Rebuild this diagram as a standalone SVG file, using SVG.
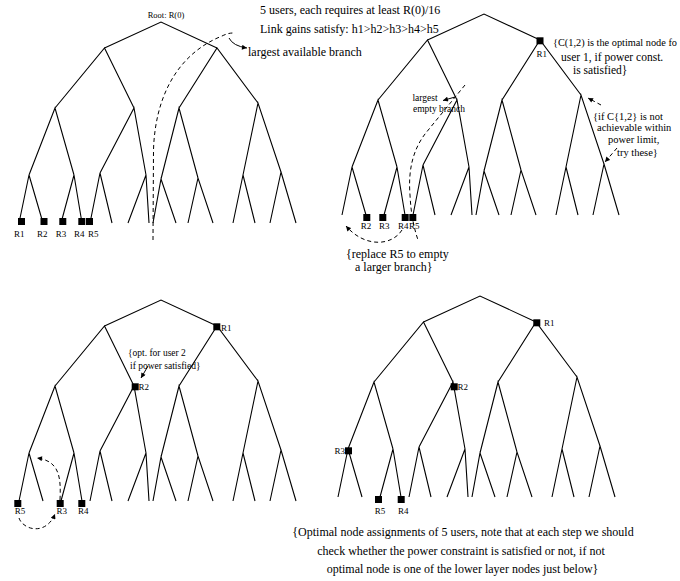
<svg xmlns="http://www.w3.org/2000/svg" width="680" height="581" viewBox="0 0 680 581">
<style>
.edge{fill:none;stroke:#000;stroke-width:1.1;stroke-linejoin:miter}
.sq{fill:#000}
.dash{fill:none;stroke:#000;stroke-width:1;stroke-dasharray:4,3}
.arr{fill:none;stroke:#000;stroke-width:1}
text{font-family:"Liberation Serif","Times New Roman",serif;fill:#000}
.lb{font-size:9px}
.sm{font-size:8.5px}
.an{font-size:9.5px}
.md{font-size:10.5px}
.mu{font-size:11.5px}
.lg{font-size:12px}
.mid{text-anchor:middle}
</style>
<defs>
<marker id="ah" viewBox="0 0 10 10" refX="10" refY="5" markerWidth="7" markerHeight="5" markerUnits="userSpaceOnUse" orient="auto"><path d="M0,0 L10,5 L0,10 Z" fill="#000"/></marker>
<g id="tree">
<path class="edge" d="M104.5,48 L161,22 L217,48 M55,108 L104.5,48 L134,108 M179,108 L217,48 L258,103 M29,175 L55,108 L74,175 M100,173 L134,108 L146,175 M161,179 L179,108 L198,178 M243,175 L258,103 L281,172 M19,223 L29,175 L43,223 M61,223 L74,175 L82,223 M90,223 L100,173 L112,223 M128,223 L146,175 L149,223 M153,223 L161,179 L176,223 M188,223 L198,178 L213,223 M233,223 L243,175 L255,223 M270,223 L281,172 L296,223"/>
</g>
</defs>

<g id="header">
<text class="lg" x="260" y="14">5 users, each requires at least R(0)/16</text>
<text class="lg" x="260" y="33">Link gains satisfy: h1&gt;h2&gt;h3&gt;h4&gt;h5</text>
</g>

<g id="tree1">
<use href="#tree"/>
<text class="sm mid" x="166" y="18">Root: R(0)</text>
<rect class="sq" x="18" y="218" width="7" height="7"/>
<rect class="sq" x="40.5" y="218" width="7" height="7"/>
<rect class="sq" x="59.3" y="218" width="7" height="7"/>
<rect class="sq" x="78.3" y="218" width="7" height="7"/>
<rect class="sq" x="86" y="218" width="7" height="7"/>
<text class="lb mid" x="19.3" y="236.5">R1</text>
<text class="lb mid" x="42.3" y="236.5">R2</text>
<text class="lb mid" x="61" y="236.5">R3</text>
<text class="lb mid" x="79.3" y="236.5">R4</text>
<text class="lb mid" x="93.3" y="236.5">R5</text>
<text class="lg" x="248" y="56">largest available branch</text>
</g>

<g id="tree2">
<use href="#tree" transform="translate(323,-8)"/>
<rect class="sq" x="536.5" y="37.3" width="7" height="7"/>
<text class="lb mid" x="541.7" y="56.5">R1</text>
<rect class="sq" x="363.3" y="214" width="7" height="7"/>
<rect class="sq" x="379.3" y="214" width="7" height="7"/>
<rect class="sq" x="401.7" y="214" width="7" height="7"/>
<rect class="sq" x="409.3" y="214" width="7" height="7"/>
<text class="lb mid" x="366" y="228.5">R2</text>
<text class="lb mid" x="384.3" y="228.5">R3</text>
<text class="lb mid" x="403.3" y="228.5">R4</text>
<text class="lb mid" x="414.3" y="228.5">R5</text>
<text class="md" x="553" y="45.5" textLength="124" lengthAdjust="spacingAndGlyphs">{C(1,2) is the optimal node fo</text>
<text class="mu" x="561" y="61">user 1, if power const.</text>
<text class="mu" x="573" y="74">is satisfied}</text>
<text class="an mid" x="425" y="101">largest</text>
<text class="an" x="413" y="111.5">empty branch</text>
<text class="md" x="593" y="120">{if C{1,2} is not</text>
<text class="md" x="597" y="131">achievable within</text>
<text class="md" x="608" y="143">power limit,</text>
<text class="md" x="617" y="156">try these}</text>
<text class="lg" x="346" y="258">{replace R5 to empty</text>
<text class="lg" x="355" y="271">a larger branch}</text>
</g>

<g id="tree3">
<use href="#tree" transform="translate(0,278)"/>
<rect class="sq" x="213.3" y="323.3" width="7" height="7"/>
<text class="lb" x="221" y="330.5">R1</text>
<rect class="sq" x="131.7" y="383.3" width="7" height="7"/>
<text class="lb" x="138.5" y="390">R2</text>
<rect class="sq" x="14.3" y="500" width="7" height="7"/>
<rect class="sq" x="56.7" y="500" width="7" height="7"/>
<rect class="sq" x="78.3" y="500" width="7" height="7"/>
<text class="lb mid" x="20" y="514">R5</text>
<text class="lb mid" x="61.7" y="514">R3</text>
<text class="lb mid" x="83.3" y="514">R4</text>
<text class="an" x="128" y="356">{opt. for user 2</text>
<text class="an" x="130" y="368.5">if power satisfied}</text>
</g>

<g id="tree4">
<use href="#tree" transform="translate(319,274)"/>
<rect class="sq" x="533.3" y="319.3" width="7" height="7"/>
<text class="lb" x="544" y="326">R1</text>
<rect class="sq" x="450.7" y="383.3" width="7" height="7"/>
<text class="lb" x="457.5" y="390">R2</text>
<rect class="sq" x="345" y="447.3" width="7" height="7"/>
<text class="lb" x="345" y="454" text-anchor="end">R3</text>
<rect class="sq" x="375" y="496" width="7" height="7"/>
<rect class="sq" x="397.7" y="496" width="7" height="7"/>
<text class="lb mid" x="380" y="514">R5</text>
<text class="lb mid" x="403.3" y="514">R4</text>
</g>

<g id="caption">
<text class="lg mid" x="463" y="535.5">{Optimal node assignments of 5 users, note that at each step we should</text>
<text class="lg mid" x="461" y="554.5">check whether the power constraint is satisfied or not, if not</text>
<text class="lg mid" x="462.5" y="572.5">optimal node is one of the lower layer nodes just below}</text>
</g>

<g id="connectors">
<path class="dash" d="M153,240 L153.5,150 C155,100 175,55 222,36 Q228,33 233,33"/>
<path class="arr" d="M229,38 Q233,46 247,48" marker-end="url(#ah)"/>
<path class="dash" d="M465,85 L425,134 C413,150 408,170 410,195 C411,215 414,228 418,240"/>
<path class="arr" d="M455,97 L443,100.5" marker-end="url(#ah)"/>
<path class="dash" d="M402,230 C392,246 365,248 346,226" marker-end="url(#ah)"/>
<path class="dash" d="M601,105 L588,98" marker-end="url(#ah)"/>
<path class="dash" d="M617,148 L605,162" marker-end="url(#ah)"/>
<path class="arr" d="M148,366 L141,378" marker-end="url(#ah)"/>
<path class="dash" d="M60,500 C61,478 60,461 37,458" marker-end="url(#ah)"/>
<path class="dash" d="M19,518 C23,530 46,536 55,514" marker-end="url(#ah)"/>
</g>
</svg>
